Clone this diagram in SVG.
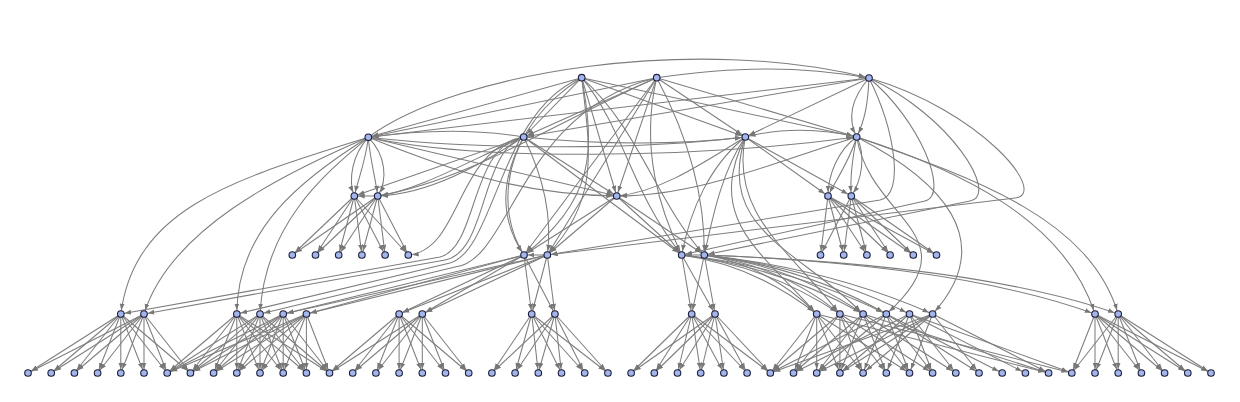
<svg xmlns="http://www.w3.org/2000/svg" width="1240" height="402" viewBox="0 0 1240 402">
<defs>
<marker id="ah" viewBox="0 0 10 10" refX="16" refY="5" markerWidth="6.5" markerHeight="6.5" orient="auto" markerUnits="userSpaceOnUse"><path d="M0,1.3L10,5L0,8.7z" fill="#777"/></marker>
<style>
.e line,.e path{stroke:#7d7d7d;stroke-width:1.05;fill:none;marker-end:url(#ah)}
.n circle{fill:#a3b6ec;stroke:#1e1e3c;stroke-width:1.1}
</style>
</defs>
<rect width="1240" height="402" fill="#fff"/>
<g id="edges" class="e">
<!-- G1 -->
<line x1="120.8" y1="314" x2="28" y2="373"/><line x1="120.8" y1="314" x2="51.2" y2="373"/><line x1="120.8" y1="314" x2="74.4" y2="373"/><line x1="120.8" y1="314" x2="97.6" y2="373"/><line x1="120.8" y1="314" x2="120.8" y2="373"/><line x1="120.8" y1="314" x2="144" y2="373"/><line x1="120.8" y1="314" x2="167.2" y2="373"/><line x1="120.8" y1="314" x2="190.4" y2="373"/>
<line x1="144" y1="314" x2="28" y2="373"/><line x1="144" y1="314" x2="51.2" y2="373"/><line x1="144" y1="314" x2="74.4" y2="373"/><line x1="144" y1="314" x2="97.6" y2="373"/><line x1="144" y1="314" x2="120.8" y2="373"/><line x1="144" y1="314" x2="144" y2="373"/><line x1="144" y1="314" x2="167.2" y2="373"/><line x1="144" y1="314" x2="190.4" y2="373"/>
<!-- G2 -->
<line x1="236.8" y1="314" x2="167.2" y2="373"/><line x1="236.8" y1="314" x2="190.4" y2="373"/><line x1="236.8" y1="314" x2="213.6" y2="373"/><line x1="236.8" y1="314" x2="236.8" y2="373"/><line x1="236.8" y1="314" x2="260" y2="373"/><line x1="236.8" y1="314" x2="283.2" y2="373"/><line x1="236.8" y1="314" x2="306.4" y2="373"/><line x1="236.8" y1="314" x2="329.5" y2="373"/>
<line x1="260" y1="314" x2="167.2" y2="373"/><line x1="260" y1="314" x2="190.4" y2="373"/><line x1="260" y1="314" x2="213.6" y2="373"/><line x1="260" y1="314" x2="236.8" y2="373"/><line x1="260" y1="314" x2="260" y2="373"/><line x1="260" y1="314" x2="283.2" y2="373"/><line x1="260" y1="314" x2="306.4" y2="373"/><line x1="260" y1="314" x2="329.5" y2="373"/>
<line x1="283.2" y1="314" x2="167.2" y2="373"/><line x1="283.2" y1="314" x2="190.4" y2="373"/><line x1="283.2" y1="314" x2="213.6" y2="373"/><line x1="283.2" y1="314" x2="236.8" y2="373"/><line x1="283.2" y1="314" x2="260" y2="373"/><line x1="283.2" y1="314" x2="283.2" y2="373"/><line x1="283.2" y1="314" x2="306.4" y2="373"/><line x1="283.2" y1="314" x2="329.5" y2="373"/>
<line x1="306.4" y1="314" x2="167.2" y2="373"/><line x1="306.4" y1="314" x2="190.4" y2="373"/><line x1="306.4" y1="314" x2="213.6" y2="373"/><line x1="306.4" y1="314" x2="236.8" y2="373"/><line x1="306.4" y1="314" x2="260" y2="373"/><line x1="306.4" y1="314" x2="283.2" y2="373"/><line x1="306.4" y1="314" x2="306.4" y2="373"/><line x1="306.4" y1="314" x2="329.5" y2="373"/>
<!-- G3 -->
<line x1="399.1" y1="314" x2="329.5" y2="373"/><line x1="399.1" y1="314" x2="352.7" y2="373"/><line x1="399.1" y1="314" x2="375.9" y2="373"/><line x1="399.1" y1="314" x2="399.1" y2="373"/><line x1="399.1" y1="314" x2="422.3" y2="373"/><line x1="399.1" y1="314" x2="445.5" y2="373"/><line x1="399.1" y1="314" x2="468.7" y2="373"/>
<line x1="422.3" y1="314" x2="329.5" y2="373"/><line x1="422.3" y1="314" x2="352.7" y2="373"/><line x1="422.3" y1="314" x2="375.9" y2="373"/><line x1="422.3" y1="314" x2="399.1" y2="373"/><line x1="422.3" y1="314" x2="422.3" y2="373"/><line x1="422.3" y1="314" x2="445.5" y2="373"/><line x1="422.3" y1="314" x2="468.7" y2="373"/>
<!-- G4 -->
<line x1="531.7" y1="314" x2="491.9" y2="373"/><line x1="531.7" y1="314" x2="515.1" y2="373"/><line x1="531.7" y1="314" x2="538.3" y2="373"/><line x1="531.7" y1="314" x2="561.5" y2="373"/><line x1="531.7" y1="314" x2="584.7" y2="373"/><line x1="531.7" y1="314" x2="607.9" y2="373"/>
<line x1="554.9" y1="314" x2="491.9" y2="373"/><line x1="554.9" y1="314" x2="515.1" y2="373"/><line x1="554.9" y1="314" x2="538.3" y2="373"/><line x1="554.9" y1="314" x2="561.5" y2="373"/><line x1="554.9" y1="314" x2="584.7" y2="373"/><line x1="554.9" y1="314" x2="607.9" y2="373"/>
<!-- G5 -->
<line x1="691.7" y1="314" x2="631.1" y2="373"/><line x1="691.7" y1="314" x2="654.3" y2="373"/><line x1="691.7" y1="314" x2="677.5" y2="373"/><line x1="691.7" y1="314" x2="700.7" y2="373"/><line x1="691.7" y1="314" x2="723.9" y2="373"/><line x1="691.7" y1="314" x2="747.1" y2="373"/><line x1="691.7" y1="314" x2="770.3" y2="373"/>
<line x1="715" y1="314" x2="631.1" y2="373"/><line x1="715" y1="314" x2="654.3" y2="373"/><line x1="715" y1="314" x2="677.5" y2="373"/><line x1="715" y1="314" x2="700.7" y2="373"/><line x1="715" y1="314" x2="723.9" y2="373"/><line x1="715" y1="314" x2="747.1" y2="373"/><line x1="715" y1="314" x2="770.3" y2="373"/>
<!-- G6 -->
<line x1="816.7" y1="314" x2="770.3" y2="373"/><line x1="816.7" y1="314" x2="793.5" y2="373"/><line x1="816.7" y1="314" x2="816.7" y2="373"/><line x1="816.7" y1="314" x2="839.9" y2="373"/><line x1="816.7" y1="314" x2="863.1" y2="373"/><line x1="816.7" y1="314" x2="909.5" y2="373"/><line x1="816.7" y1="314" x2="1048.6" y2="373"/>
<line x1="839.9" y1="314" x2="770.3" y2="373"/><line x1="839.9" y1="314" x2="793.5" y2="373"/><line x1="839.9" y1="314" x2="839.9" y2="373"/><line x1="839.9" y1="314" x2="863.1" y2="373"/><line x1="839.9" y1="314" x2="886.3" y2="373"/><line x1="839.9" y1="314" x2="932.6" y2="373"/><line x1="839.9" y1="314" x2="1071.8" y2="373"/>
<line x1="863.1" y1="314" x2="793.5" y2="373"/><line x1="863.1" y1="314" x2="816.7" y2="373"/><line x1="863.1" y1="314" x2="839.9" y2="373"/><line x1="863.1" y1="314" x2="886.3" y2="373"/><line x1="863.1" y1="314" x2="909.5" y2="373"/><line x1="863.1" y1="314" x2="955.8" y2="373"/><line x1="863.1" y1="314" x2="1048.6" y2="373"/>
<line x1="886.3" y1="314" x2="770.3" y2="373"/><line x1="886.3" y1="314" x2="816.7" y2="373"/><line x1="886.3" y1="314" x2="863.1" y2="373"/><line x1="886.3" y1="314" x2="909.5" y2="373"/><line x1="886.3" y1="314" x2="932.6" y2="373"/><line x1="886.3" y1="314" x2="979" y2="373"/><line x1="886.3" y1="314" x2="1002.2" y2="373"/>
<line x1="909.5" y1="314" x2="793.5" y2="373"/><line x1="909.5" y1="314" x2="839.9" y2="373"/><line x1="909.5" y1="314" x2="886.3" y2="373"/><line x1="909.5" y1="314" x2="932.6" y2="373"/><line x1="909.5" y1="314" x2="955.8" y2="373"/><line x1="909.5" y1="314" x2="1025.4" y2="373"/><line x1="909.5" y1="314" x2="1071.8" y2="373"/>
<line x1="932.6" y1="314" x2="770.3" y2="373"/><line x1="932.6" y1="314" x2="816.7" y2="373"/><line x1="932.6" y1="314" x2="839.9" y2="373"/><line x1="932.6" y1="314" x2="863.1" y2="373"/><line x1="932.6" y1="314" x2="909.5" y2="373"/><line x1="932.6" y1="314" x2="979" y2="373"/><line x1="932.6" y1="314" x2="1048.6" y2="373"/>
<!-- G7 -->
<line x1="1095" y1="314" x2="1071.8" y2="373"/><line x1="1095" y1="314" x2="1095" y2="373"/><line x1="1095" y1="314" x2="1118.2" y2="373"/><line x1="1095" y1="314" x2="1141.4" y2="373"/><line x1="1095" y1="314" x2="1164.6" y2="373"/><line x1="1095" y1="314" x2="1187.8" y2="373"/><line x1="1095" y1="314" x2="1211" y2="373"/>
<line x1="1118.2" y1="314" x2="1071.8" y2="373"/><line x1="1118.2" y1="314" x2="1095" y2="373"/><line x1="1118.2" y1="314" x2="1118.2" y2="373"/><line x1="1118.2" y1="314" x2="1141.4" y2="373"/><line x1="1118.2" y1="314" x2="1164.6" y2="373"/><line x1="1118.2" y1="314" x2="1187.8" y2="373"/><line x1="1118.2" y1="314" x2="1211" y2="373"/>
<!-- R to row4 leaves -->
<line x1="354.3" y1="196" x2="292.3" y2="255"/><line x1="354.3" y1="196" x2="315.5" y2="255"/><line x1="354.3" y1="196" x2="338.7" y2="255"/><line x1="354.3" y1="196" x2="361.9" y2="255"/><line x1="354.3" y1="196" x2="385.1" y2="255"/><line x1="354.3" y1="196" x2="408.3" y2="255"/>
<line x1="377.7" y1="196" x2="292.3" y2="255"/><line x1="377.7" y1="196" x2="315.5" y2="255"/><line x1="377.7" y1="196" x2="338.7" y2="255"/><line x1="377.7" y1="196" x2="361.9" y2="255"/><line x1="377.7" y1="196" x2="385.1" y2="255"/><line x1="377.7" y1="196" x2="408.3" y2="255"/>
<line x1="828" y1="196" x2="820.5" y2="255"/><line x1="828" y1="196" x2="843.7" y2="255"/><line x1="828" y1="196" x2="866.9" y2="255"/><line x1="828" y1="196" x2="890.1" y2="255"/><line x1="828" y1="196" x2="913.3" y2="255"/><line x1="828" y1="196" x2="936.5" y2="255"/>
<line x1="851.3" y1="196" x2="820.5" y2="255"/><line x1="851.3" y1="196" x2="843.7" y2="255"/><line x1="851.3" y1="196" x2="866.9" y2="255"/><line x1="851.3" y1="196" x2="890.1" y2="255"/><line x1="851.3" y1="196" x2="913.3" y2="255"/><line x1="851.3" y1="196" x2="936.5" y2="255"/>
<!-- M to row5 -->
<line x1="524" y1="255" x2="283.2" y2="314"/><line x1="524" y1="255" x2="306.4" y2="314"/><line x1="524" y1="255" x2="399.1" y2="314"/><line x1="524" y1="255" x2="422.3" y2="314"/><line x1="524" y1="255" x2="531.7" y2="314"/><line x1="524" y1="255" x2="554.9" y2="314"/>
<line x1="547.3" y1="255" x2="283.2" y2="314"/><line x1="547.3" y1="255" x2="306.4" y2="314"/><line x1="547.3" y1="255" x2="399.1" y2="314"/><line x1="547.3" y1="255" x2="422.3" y2="314"/><line x1="547.3" y1="255" x2="531.7" y2="314"/><line x1="547.3" y1="255" x2="554.9" y2="314"/>
<line x1="681.7" y1="255" x2="691.7" y2="314"/><line x1="681.7" y1="255" x2="715" y2="314"/><line x1="704.3" y1="255" x2="691.7" y2="314"/><line x1="704.3" y1="255" x2="715" y2="314"/>
<path d="M681.7,255Q754,265 816.7,314"/><path d="M681.7,255Q766,265 839.9,314"/><path d="M681.7,255Q778,266 863.1,314"/><path d="M681.7,255Q789,266 886.3,314"/>
<path d="M704.3,255Q770,266 816.7,314"/><path d="M704.3,255Q782,266 839.9,314"/><path d="M704.3,255Q794,266 863.1,314"/><path d="M704.3,255Q805,267 886.3,314"/><path d="M704.3,255Q817,268 909.5,314"/><path d="M704.3,255Q828,268 932.6,314"/>
<path d="M704.3,255Q960,265 1095,314"/><path d="M704.3,255Q980,265 1118.2,314"/>
<!-- T1 -->
<line x1="581.7" y1="77.7" x2="368.3" y2="137.3"/><line x1="581.7" y1="77.7" x2="523.7" y2="137"/><line x1="581.7" y1="77.7" x2="745.3" y2="137"/><line x1="581.7" y1="77.7" x2="856.7" y2="137"/>
<path d="M581.7,77.7C500,130 495,210 524,255"/><path d="M581.7,77.7C595,150 595,200 524,255"/><path d="M581.7,77.7C590,150 600,200 547.3,255"/>
<path d="M581.7,77.7C625,130 630,190 681.7,255"/><path d="M581.7,77.7C640,130 655,200 704.3,255"/>
<line x1="581.7" y1="77.7" x2="616.7" y2="196"/>
<path d="M581.7,77.7C500,110 495,250 450,263L236.8,314"/>
<!-- T2 -->
<line x1="656.7" y1="77.7" x2="368.3" y2="137.3"/><line x1="656.7" y1="77.7" x2="523.7" y2="137"/><line x1="656.7" y1="77.7" x2="745.3" y2="137"/><line x1="656.7" y1="77.7" x2="856.7" y2="137"/>
<path d="M656.7,77.7C740,66 800,66 869,78"/>
<line x1="656.7" y1="77.7" x2="524" y2="255"/><line x1="656.7" y1="77.7" x2="547.3" y2="255"/>
<line x1="656.7" y1="77.7" x2="616.7" y2="196"/>
<path d="M656.7,77.7C640,150 660,210 681.7,255"/><path d="M656.7,77.7C690,140 705,200 704.3,255"/>
<path d="M656.7,77.7C560,120 470,180 377.7,196"/>
<path d="M656.7,77.7C520,110 510,262 455,267L260,314"/>
<!-- T3 -->
<line x1="869" y1="78" x2="368.3" y2="137.3"/><line x1="869" y1="78" x2="523.7" y2="137"/><line x1="869" y1="78" x2="745.3" y2="137"/>
<path d="M869,78C850,100 848,120 856.7,137"/><path d="M869,78C868,100 866,118 856.7,137"/>
<path d="M869,78C895,130 905,195 880,200L547.3,255"/>
<path d="M869,78C920,120 950,195 925,201L681.7,255"/>
<path d="M869,78C950,115 1000,195 970,201L704.3,255"/>
<path d="M869,78C980,110 1050,194 1015,198L547.3,255"/>
<!-- S1 -->
<path d="M368.3,137.3C352,155 348,180 354.3,196"/><path d="M368.3,137.3C366,160 358,180 354.3,196"/>
<path d="M368.3,137.3C370,160 376,180 377.7,196"/><path d="M368.3,137.3C386,155 388,180 377.7,196"/>
<path d="M368.3,137.3C240,178 135,205 120.8,314"/><path d="M368.3,137.3C280,175 170,230 144,314"/>
<path d="M368.3,137.3C300,180 237,230 236.8,314"/><path d="M368.3,137.3C330,170 265,220 260,314"/>
<line x1="368.3" y1="137.3" x2="616.7" y2="196"/><path d="M368.3,137.3C450,170 520,195 616.7,196"/>
<path d="M368.3,137.3C480,150 640,150 745.3,137"/><path d="M368.3,137.3C480,162 700,158 856.7,137"/>
<path d="M368.3,137.3C460,70 700,35 869,78"/>
<!-- S2 -->
<path d="M523.7,137C470,128 420,130 368.3,137.3"/>
<line x1="523.7" y1="137" x2="354.3" y2="196"/>
<path d="M523.7,137C470,160 420,190 377.7,196"/><path d="M523.7,137C480,165 430,194 377.7,196"/>
<path d="M523.7,137C455,150 462,250 408.3,255"/>
<path d="M523.7,137C470,145 478,248 440,257L120.8,314"/><path d="M523.7,137C480,150 488,252 445,260L144,314"/>
<path d="M523.7,137C500,180 500,220 524,255"/><path d="M523.7,137C545,180 552,220 547.3,255"/>
<path d="M523.7,137C600,145 680,145 745.3,137"/>
<line x1="523.7" y1="137" x2="616.7" y2="196"/><line x1="523.7" y1="137" x2="681.7" y2="255"/>
<!-- S3 -->
<path d="M745.3,137C700,165 660,192 616.7,196"/>
<line x1="745.3" y1="137" x2="828" y2="196"/><line x1="745.3" y1="137" x2="851.3" y2="196"/>
<path d="M745.3,137C710,165 690,210 681.7,255"/><path d="M745.3,137C722,170 712,220 704.3,255"/>
<path d="M745.3,137C705,220 760,250 816.7,314"/><path d="M745.3,137C730,215 790,250 839.9,314"/><path d="M745.3,137C715,230 800,250 863.1,314"/>
<!-- S4 -->
<path d="M856.7,137C820,128 780,128 745.3,137"/>
<path d="M856.7,137C780,160 700,196 616.7,196"/>
<path d="M856.7,137C838,150 828,175 828,196"/><path d="M856.7,137C850,160 836,180 828,196"/>
<path d="M856.7,137C852,160 850,180 851.3,196"/><path d="M856.7,137C866,155 862,180 851.3,196"/>
<path d="M856.7,137C870,220 975,235 886.3,314"/><path d="M856.7,137C940,180 1000,240 932.6,314"/>
<path d="M856.7,137C960,170 1065,220 1095,314"/><path d="M856.7,137C980,180 1090,220 1118.2,314"/>
<!-- same-layer and R3 -->
<line x1="377.7" y1="196" x2="354.3" y2="196"/><line x1="547.3" y1="255" x2="524" y2="255"/><line x1="704.3" y1="255" x2="681.7" y2="255"/>
<line x1="616.7" y1="196" x2="524" y2="255"/><line x1="616.7" y1="196" x2="547.3" y2="255"/><line x1="616.7" y1="196" x2="681.7" y2="255"/><line x1="616.7" y1="196" x2="704.3" y2="255"/>
</g>
<g id="n_t1" class="n"><circle cx="581.7" cy="77.7" r="3.3"/></g>
<g id="n_t2" class="n"><circle cx="656.7" cy="77.7" r="3.3"/></g>
<g id="n_t3" class="n"><circle cx="869" cy="78" r="3.3"/></g>
<g id="n_s1" class="n"><circle cx="368.3" cy="137.3" r="3.3"/></g>
<g id="n_s2" class="n"><circle cx="523.7" cy="137" r="3.3"/></g>
<g id="n_s3" class="n"><circle cx="745.3" cy="137" r="3.3"/></g>
<g id="n_s4" class="n"><circle cx="856.7" cy="137" r="3.3"/></g>
<g id="n_r1" class="n"><circle cx="354.3" cy="196" r="3.3"/></g>
<g id="n_r2" class="n"><circle cx="377.7" cy="196" r="3.3"/></g>
<g id="n_r3" class="n"><circle cx="616.7" cy="196" r="3.3"/></g>
<g id="n_r4" class="n"><circle cx="828" cy="196" r="3.3"/></g>
<g id="n_r5" class="n"><circle cx="851.3" cy="196" r="3.3"/></g>
<g id="n_a1" class="n"><circle cx="292.3" cy="255" r="3.3"/></g>
<g id="n_a2" class="n"><circle cx="315.5" cy="255" r="3.3"/></g>
<g id="n_a3" class="n"><circle cx="338.7" cy="255" r="3.3"/></g>
<g id="n_a4" class="n"><circle cx="361.9" cy="255" r="3.3"/></g>
<g id="n_a5" class="n"><circle cx="385.1" cy="255" r="3.3"/></g>
<g id="n_a6" class="n"><circle cx="408.3" cy="255" r="3.3"/></g>
<g id="n_m1" class="n"><circle cx="524" cy="255" r="3.3"/></g>
<g id="n_m2" class="n"><circle cx="547.3" cy="255" r="3.3"/></g>
<g id="n_m3" class="n"><circle cx="681.7" cy="255" r="3.3"/></g>
<g id="n_m4" class="n"><circle cx="704.3" cy="255" r="3.3"/></g>
<g id="n_b1" class="n"><circle cx="820.5" cy="255" r="3.3"/></g>
<g id="n_b2" class="n"><circle cx="843.7" cy="255" r="3.3"/></g>
<g id="n_b3" class="n"><circle cx="866.9" cy="255" r="3.3"/></g>
<g id="n_b4" class="n"><circle cx="890.1" cy="255" r="3.3"/></g>
<g id="n_b5" class="n"><circle cx="913.3" cy="255" r="3.3"/></g>
<g id="n_b6" class="n"><circle cx="936.5" cy="255" r="3.3"/></g>
<g id="n_p1" class="n"><circle cx="120.8" cy="314" r="3.3"/></g>
<g id="n_p2" class="n"><circle cx="144" cy="314" r="3.3"/></g>
<g id="n_p3" class="n"><circle cx="236.8" cy="314" r="3.3"/></g>
<g id="n_p4" class="n"><circle cx="260" cy="314" r="3.3"/></g>
<g id="n_p5" class="n"><circle cx="283.2" cy="314" r="3.3"/></g>
<g id="n_p6" class="n"><circle cx="306.4" cy="314" r="3.3"/></g>
<g id="n_p7" class="n"><circle cx="399.1" cy="314" r="3.3"/></g>
<g id="n_p8" class="n"><circle cx="422.3" cy="314" r="3.3"/></g>
<g id="n_p9" class="n"><circle cx="531.7" cy="314" r="3.3"/></g>
<g id="n_p10" class="n"><circle cx="554.9" cy="314" r="3.3"/></g>
<g id="n_p11" class="n"><circle cx="691.7" cy="314" r="3.3"/></g>
<g id="n_p12" class="n"><circle cx="715" cy="314" r="3.3"/></g>
<g id="n_p13" class="n"><circle cx="816.7" cy="314" r="3.3"/></g>
<g id="n_p14" class="n"><circle cx="839.9" cy="314" r="3.3"/></g>
<g id="n_p15" class="n"><circle cx="863.1" cy="314" r="3.3"/></g>
<g id="n_p16" class="n"><circle cx="886.3" cy="314" r="3.3"/></g>
<g id="n_p17" class="n"><circle cx="909.5" cy="314" r="3.3"/></g>
<g id="n_p18" class="n"><circle cx="932.6" cy="314" r="3.3"/></g>
<g id="n_p19" class="n"><circle cx="1095" cy="314" r="3.3"/></g>
<g id="n_p20" class="n"><circle cx="1118.2" cy="314" r="3.3"/></g>
<g id="n_l1" class="n"><circle cx="28" cy="373" r="3.3"/></g>
<g id="n_l2" class="n"><circle cx="51.2" cy="373" r="3.3"/></g>
<g id="n_l3" class="n"><circle cx="74.4" cy="373" r="3.3"/></g>
<g id="n_l4" class="n"><circle cx="97.6" cy="373" r="3.3"/></g>
<g id="n_l5" class="n"><circle cx="120.8" cy="373" r="3.3"/></g>
<g id="n_l6" class="n"><circle cx="144" cy="373" r="3.3"/></g>
<g id="n_l7" class="n"><circle cx="167.2" cy="373" r="3.3"/></g>
<g id="n_l8" class="n"><circle cx="190.4" cy="373" r="3.3"/></g>
<g id="n_l9" class="n"><circle cx="213.6" cy="373" r="3.3"/></g>
<g id="n_l10" class="n"><circle cx="236.8" cy="373" r="3.3"/></g>
<g id="n_l11" class="n"><circle cx="260" cy="373" r="3.3"/></g>
<g id="n_l12" class="n"><circle cx="283.2" cy="373" r="3.3"/></g>
<g id="n_l13" class="n"><circle cx="306.4" cy="373" r="3.3"/></g>
<g id="n_l14" class="n"><circle cx="329.5" cy="373" r="3.3"/></g>
<g id="n_l15" class="n"><circle cx="352.7" cy="373" r="3.3"/></g>
<g id="n_l16" class="n"><circle cx="375.9" cy="373" r="3.3"/></g>
<g id="n_l17" class="n"><circle cx="399.1" cy="373" r="3.3"/></g>
<g id="n_l18" class="n"><circle cx="422.3" cy="373" r="3.3"/></g>
<g id="n_l19" class="n"><circle cx="445.5" cy="373" r="3.3"/></g>
<g id="n_l20" class="n"><circle cx="468.7" cy="373" r="3.3"/></g>
<g id="n_l21" class="n"><circle cx="491.9" cy="373" r="3.3"/></g>
<g id="n_l22" class="n"><circle cx="515.1" cy="373" r="3.3"/></g>
<g id="n_l23" class="n"><circle cx="538.3" cy="373" r="3.3"/></g>
<g id="n_l24" class="n"><circle cx="561.5" cy="373" r="3.3"/></g>
<g id="n_l25" class="n"><circle cx="584.7" cy="373" r="3.3"/></g>
<g id="n_l26" class="n"><circle cx="607.9" cy="373" r="3.3"/></g>
<g id="n_l27" class="n"><circle cx="631.1" cy="373" r="3.3"/></g>
<g id="n_l28" class="n"><circle cx="654.3" cy="373" r="3.3"/></g>
<g id="n_l29" class="n"><circle cx="677.5" cy="373" r="3.3"/></g>
<g id="n_l30" class="n"><circle cx="700.7" cy="373" r="3.3"/></g>
<g id="n_l31" class="n"><circle cx="723.9" cy="373" r="3.3"/></g>
<g id="n_l32" class="n"><circle cx="747.1" cy="373" r="3.3"/></g>
<g id="n_l33" class="n"><circle cx="770.3" cy="373" r="3.3"/></g>
<g id="n_l34" class="n"><circle cx="793.5" cy="373" r="3.3"/></g>
<g id="n_l35" class="n"><circle cx="816.7" cy="373" r="3.3"/></g>
<g id="n_l36" class="n"><circle cx="839.9" cy="373" r="3.3"/></g>
<g id="n_l37" class="n"><circle cx="863.1" cy="373" r="3.3"/></g>
<g id="n_l38" class="n"><circle cx="886.3" cy="373" r="3.3"/></g>
<g id="n_l39" class="n"><circle cx="909.5" cy="373" r="3.3"/></g>
<g id="n_l40" class="n"><circle cx="932.6" cy="373" r="3.3"/></g>
<g id="n_l41" class="n"><circle cx="955.8" cy="373" r="3.3"/></g>
<g id="n_l42" class="n"><circle cx="979" cy="373" r="3.3"/></g>
<g id="n_l43" class="n"><circle cx="1002.2" cy="373" r="3.3"/></g>
<g id="n_l44" class="n"><circle cx="1025.4" cy="373" r="3.3"/></g>
<g id="n_l45" class="n"><circle cx="1048.6" cy="373" r="3.3"/></g>
<g id="n_l46" class="n"><circle cx="1071.8" cy="373" r="3.3"/></g>
<g id="n_l47" class="n"><circle cx="1095" cy="373" r="3.3"/></g>
<g id="n_l48" class="n"><circle cx="1118.2" cy="373" r="3.3"/></g>
<g id="n_l49" class="n"><circle cx="1141.4" cy="373" r="3.3"/></g>
<g id="n_l50" class="n"><circle cx="1164.6" cy="373" r="3.3"/></g>
<g id="n_l51" class="n"><circle cx="1187.8" cy="373" r="3.3"/></g>
<g id="n_l52" class="n"><circle cx="1211" cy="373" r="3.3"/></g>
</svg>
